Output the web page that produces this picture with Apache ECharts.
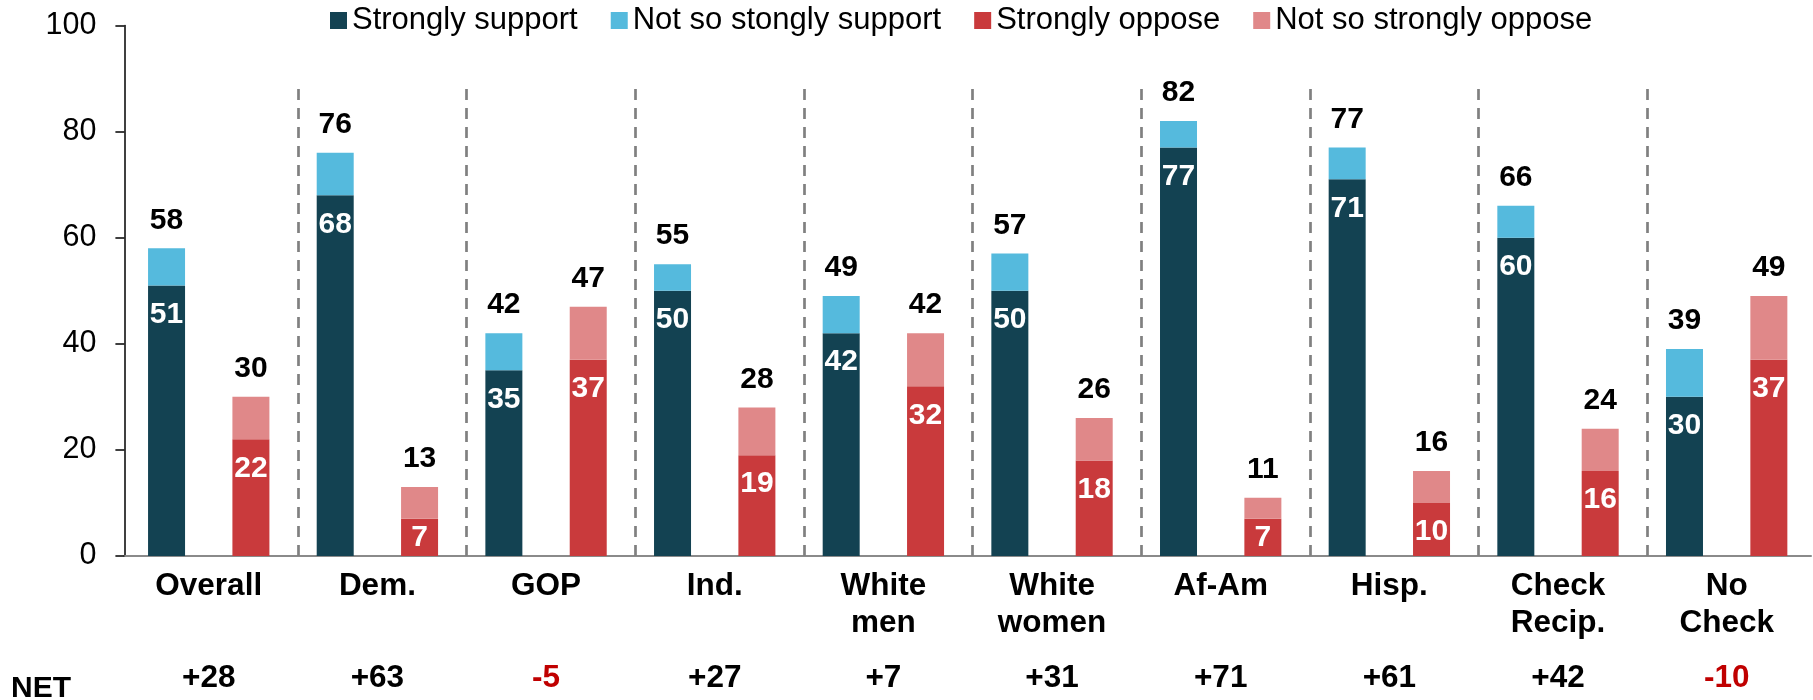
<!DOCTYPE html>
<html><head><meta charset="utf-8">
<script src="https://cdn.jsdelivr.net/npm/echarts@6/dist/echarts.min.js"></script>
<style>html,body{margin:0;padding:0;background:#fff}#c{width:1813px;height:700px}</style>
</head><body><div id="c"></div>
<script>
const categories = ['Overall','Dem.','GOP','Ind.','White\nmen','White\nwomen','Af-Am','Hisp.','Check\nRecip.','No\nCheck'];
const strongSupport = [51,68,35,50,42,50,77,71,60,30];
const totalSupport  = [58,76,42,55,49,57,82,77,66,39];
const strongOppose  = [22,7,37,19,32,18,7,10,16,37];
const totalOppose   = [30,13,47,28,42,26,11,16,24,49];
const netLabels     = ['+28','+63','-5','+27','+7','+31','+71','+61','+42','-10'];
const yMin = 0, yMax = 100, yStep = 20;
const seriesNames = ['Strongly support','Not so stongly support','Strongly oppose','Not so strongly oppose'];

const FONT = 'Liberation Sans, Arial, sans-serif';
const colors = ['#134252','#55BADD','#C93A3C','#E08889'];
const GRID_L = 124.4, GRID_R = 2, GRID_T = 25.5, GRID_B = 144;

const notSoSupport = totalSupport.map((t,i)=>t-strongSupport[i]);
const notSoOppose  = totalOppose.map((t,i)=>t-strongOppose[i]);
const innerItems = arr => arr.map(v => v < 10 ? {value:v, label:{position:'inside'}} : v);

const innerLabel = {show:true, position:'insideTop', distance:14, color:'#fff', fontWeight:'bold', fontSize:30, fontFamily:FONT};
const topLabel = (tot) => ({show:true, position:'top', distance:13, color:'#000', fontWeight:'bold', fontSize:30, fontFamily:FONT, formatter:p=>tot[p.dataIndex]});
const BAR_W = 37, BAR_GAP = '128%';

const chart = echarts.init(document.getElementById('c'), null, {renderer:'canvas'});
chart.setOption({
  animation:false,
  backgroundColor:'#fff',
  textStyle:{fontFamily:FONT},
  legend:{
    left:330, top:5, padding:0, itemWidth:17, itemHeight:17, itemGap:33,
    icon:'rect',
    data:seriesNames,
    textStyle:{fontSize:31, color:'#000', fontFamily:FONT}
  },
  grid:[
    {left:GRID_L, right:GRID_R, top:GRID_T, bottom:GRID_B, containLabel:false, outerBoundsMode:'none'},
    {left:GRID_L+5, right:GRID_R-5, top:82, bottom:GRID_B, containLabel:false, outerBoundsMode:'none'},
    {left:GRID_L, right:GRID_R, top:GRID_T, bottom:GRID_B, containLabel:false, outerBoundsMode:'none'}
  ],
  xAxis:[
    {type:'category', gridIndex:0, data:categories, boundaryGap:true,
     axisLine:{show:true, lineStyle:{color:'#8a8a8a', width:2}},
     axisTick:{show:false},
     axisLabel:{margin:12, color:'#000', fontWeight:'bold', fontSize:31.5, lineHeight:37, fontFamily:FONT, interval:0},
     splitLine:{show:false}},
    {type:'value', gridIndex:1, min:0, max:categories.length, show:false},
    {type:'category', gridIndex:2, position:'bottom',
     data:netLabels.map(s=>({value:s, textStyle:{color: s.startsWith('-') ? '#C00000' : '#000'}})),
     axisLine:{show:false}, axisTick:{show:false},
     axisLabel:{margin:104, fontWeight:'bold', fontSize:31.5, lineHeight:37, fontFamily:FONT, interval:0},
     splitLine:{show:false}}
  ],
  yAxis:[
    {type:'value', gridIndex:0, min:yMin, max:yMax, interval:yStep,
     axisLine:{show:true, lineStyle:{color:'#000', width:1.5}},
     axisTick:{show:true, inside:false, length:9, lineStyle:{color:'#000', width:1.5}},
     axisLabel:{margin:28, color:'#000', fontSize:30.5, fontFamily:FONT},
     splitLine:{show:false}},
    {type:'value', gridIndex:1, min:0, max:1, show:false},
    {type:'value', gridIndex:2, min:0, max:1, show:false}
  ],
  series:[
    {name:seriesNames[0], type:'bar', stack:'sup', xAxisIndex:0, yAxisIndex:0,
     barWidth:BAR_W, barGap:BAR_GAP, itemStyle:{color:colors[0]},
     data:innerItems(strongSupport), label:innerLabel},
    {name:seriesNames[1], type:'bar', stack:'sup', xAxisIndex:0, yAxisIndex:0,
     barWidth:BAR_W, barGap:BAR_GAP, itemStyle:{color:colors[1]},
     data:notSoSupport, label:topLabel(totalSupport)},
    {name:seriesNames[2], type:'bar', stack:'opp', xAxisIndex:0, yAxisIndex:0,
     barWidth:BAR_W, barGap:BAR_GAP, itemStyle:{color:colors[2]},
     data:innerItems(strongOppose), label:innerLabel},
    {name:seriesNames[3], type:'bar', stack:'opp', xAxisIndex:0, yAxisIndex:0,
     barWidth:BAR_W, barGap:BAR_GAP, itemStyle:{color:colors[3]},
     data:notSoOppose, label:topLabel(totalOppose)},
    {type:'line', xAxisIndex:1, yAxisIndex:1, data:[[0,0]], symbol:'none', lineStyle:{opacity:0}, silent:true,
     markLine:{silent:true, symbol:['none','none'], label:{show:false},
       lineStyle:{type:[11,8], color:'#808080', width:2.7},
       data:categories.slice(1).map((c,i)=>({xAxis:i+1}))}}
  ],
  graphic:[
    {type:'text', left:11, top:674, style:{text:'NET', font:'bold 30px '+FONT, fill:'#000'}}
  ]
});
</script>
</body></html>
